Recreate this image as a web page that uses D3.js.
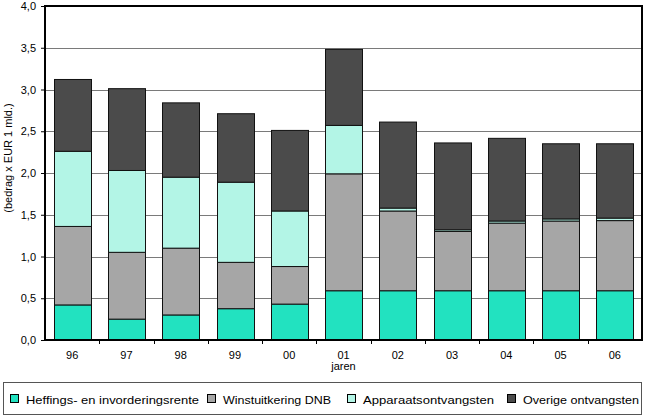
<!DOCTYPE html>
<html><head><meta charset="utf-8">
<script src="https://cdn.jsdelivr.net/npm/d3@7"></script>
<style>body{margin:0;background:#fff}svg{display:block}text{font-family:"Liberation Sans",Arial,sans-serif}</style>
</head><body><svg id="c" width="647" height="417"></svg>
<script>
const years = ["96","97","98","99","00","01","02","03","04","05","06"];
const heffings = [0.42,0.25,0.30,0.375,0.43,0.59,0.59,0.59,0.59,0.59,0.59];
const winst = [0.94,0.80,0.80,0.555,0.45,1.40,0.955,0.71,0.81,0.835,0.84];
const apparaat = [0.90,0.98,0.85,0.96,0.665,0.58,0.035,0.02,0.025,0.025,0.03];
const overige = [0.86,0.98,0.89,0.82,0.965,0.91,1.03,1.04,0.99,0.90,0.89];
const seriesNames = ["Heffings- en invorderingsrente","Winstuitkering DNB","Apparaatsontvangsten","Overige ontvangsten"];
const colors = ["#22e2c0","#a6a6a6","#b3f5e6","#4b4b4b"];
const yTicks = [0,0.5,1,1.5,2,2.5,3,3.5,4];

const svg = d3.select("#c");
const L=45,R=642,T=6,B=340;
const x = d3.scaleBand().domain(years).range([L,R]).paddingInner(0.32).paddingOuter(0.16);
const xb = d3.scaleBand().domain(years).range([L,R]);
const y = d3.scaleLinear().domain([0,4]).range([B,T]);

const rows = years.map((yr,i)=>({year:yr,s0:heffings[i],s1:winst[i],s2:apparaat[i],s3:overige[i]}));
const stack = d3.stack().keys(["s0","s1","s2","s3"])(rows);

// gridlines
svg.append("g").selectAll("line").data(yTicks.filter(d=>d>0&&d<4)).join("line")
  .attr("x1",L).attr("x2",R).attr("y1",d=>Math.round(y(d))+0.5).attr("y2",d=>Math.round(y(d))+0.5)
  .attr("stroke","#7a7a7a").attr("stroke-width",1);

// bars
svg.append("g").selectAll("g").data(stack).join("g")
  .attr("fill",(d,i)=>colors[i])
  .selectAll("rect").data(d=>d).join("rect")
  .attr("x",d=>Math.round(x(d.data.year))+0.5)
  .attr("width",Math.round(x.bandwidth()))
  .attr("y",d=>y(d[1]))
  .attr("height",d=>y(d[0])-y(d[1]))
  .attr("stroke","#111").attr("stroke-width",1);

// y axis
const ya = svg.append("g").attr("transform",`translate(${L},0)`)
  .call(d3.axisLeft(y).tickValues(yTicks).tickSize(4).tickFormat(d=>d3.format(".1f")(d).replace(".",",")));
ya.select(".domain").remove();
ya.selectAll("line").attr("stroke","#000");
ya.selectAll("text").attr("font-size",11).attr("fill","#000").attr("dx",-2);

// x axis
const xa = svg.append("g").attr("transform",`translate(0,${B})`)
  .call(d3.axisBottom(x).tickSize(0).tickPadding(11));
xa.select(".domain").remove();
xa.selectAll("text").attr("font-size",11).attr("fill","#000");
svg.append("g").selectAll("line").data(years.slice(1)).join("line")
  .attr("x1",d=>Math.round(xb(d))+0.5).attr("x2",d=>Math.round(xb(d))+0.5)
  .attr("y1",B).attr("y2",B+4).attr("stroke","#000");

// frame
svg.append("rect").attr("x",L).attr("y",T).attr("width",R-L).attr("height",B-T)
  .attr("fill","none").attr("stroke","#000").attr("stroke-width",2);

svg.append("text").attr("x",x("01")+x.bandwidth()/2).attr("y",370).attr("text-anchor","middle")
  .attr("font-size",11).text("jaren");
svg.append("text").attr("transform","translate(12,158) rotate(-90)").attr("text-anchor","middle")
  .attr("font-size",11).text("(bedrag x EUR 1 mld.)");

// legend
const lg = svg.append("g");
lg.append("rect").attr("x",3.5).attr("y",382.5).attr("width",638).attr("height",32)
  .attr("fill","#fff").attr("stroke","#555");
const lx = [10,207,347,507];
const tl = [173,108,131,116];
seriesNames.forEach((n,i)=>{
  lg.append("rect").attr("x",lx[i]+0.5).attr("y",394.5).attr("width",8).attr("height",8)
    .attr("fill",colors[i]).attr("stroke","#000");
  lg.append("text").attr("x",lx[i]+16).attr("y",404).attr("font-size",11)
    .attr("textLength",tl[i]).attr("lengthAdjust","spacingAndGlyphs").text(n);
});
</script></body></html>
